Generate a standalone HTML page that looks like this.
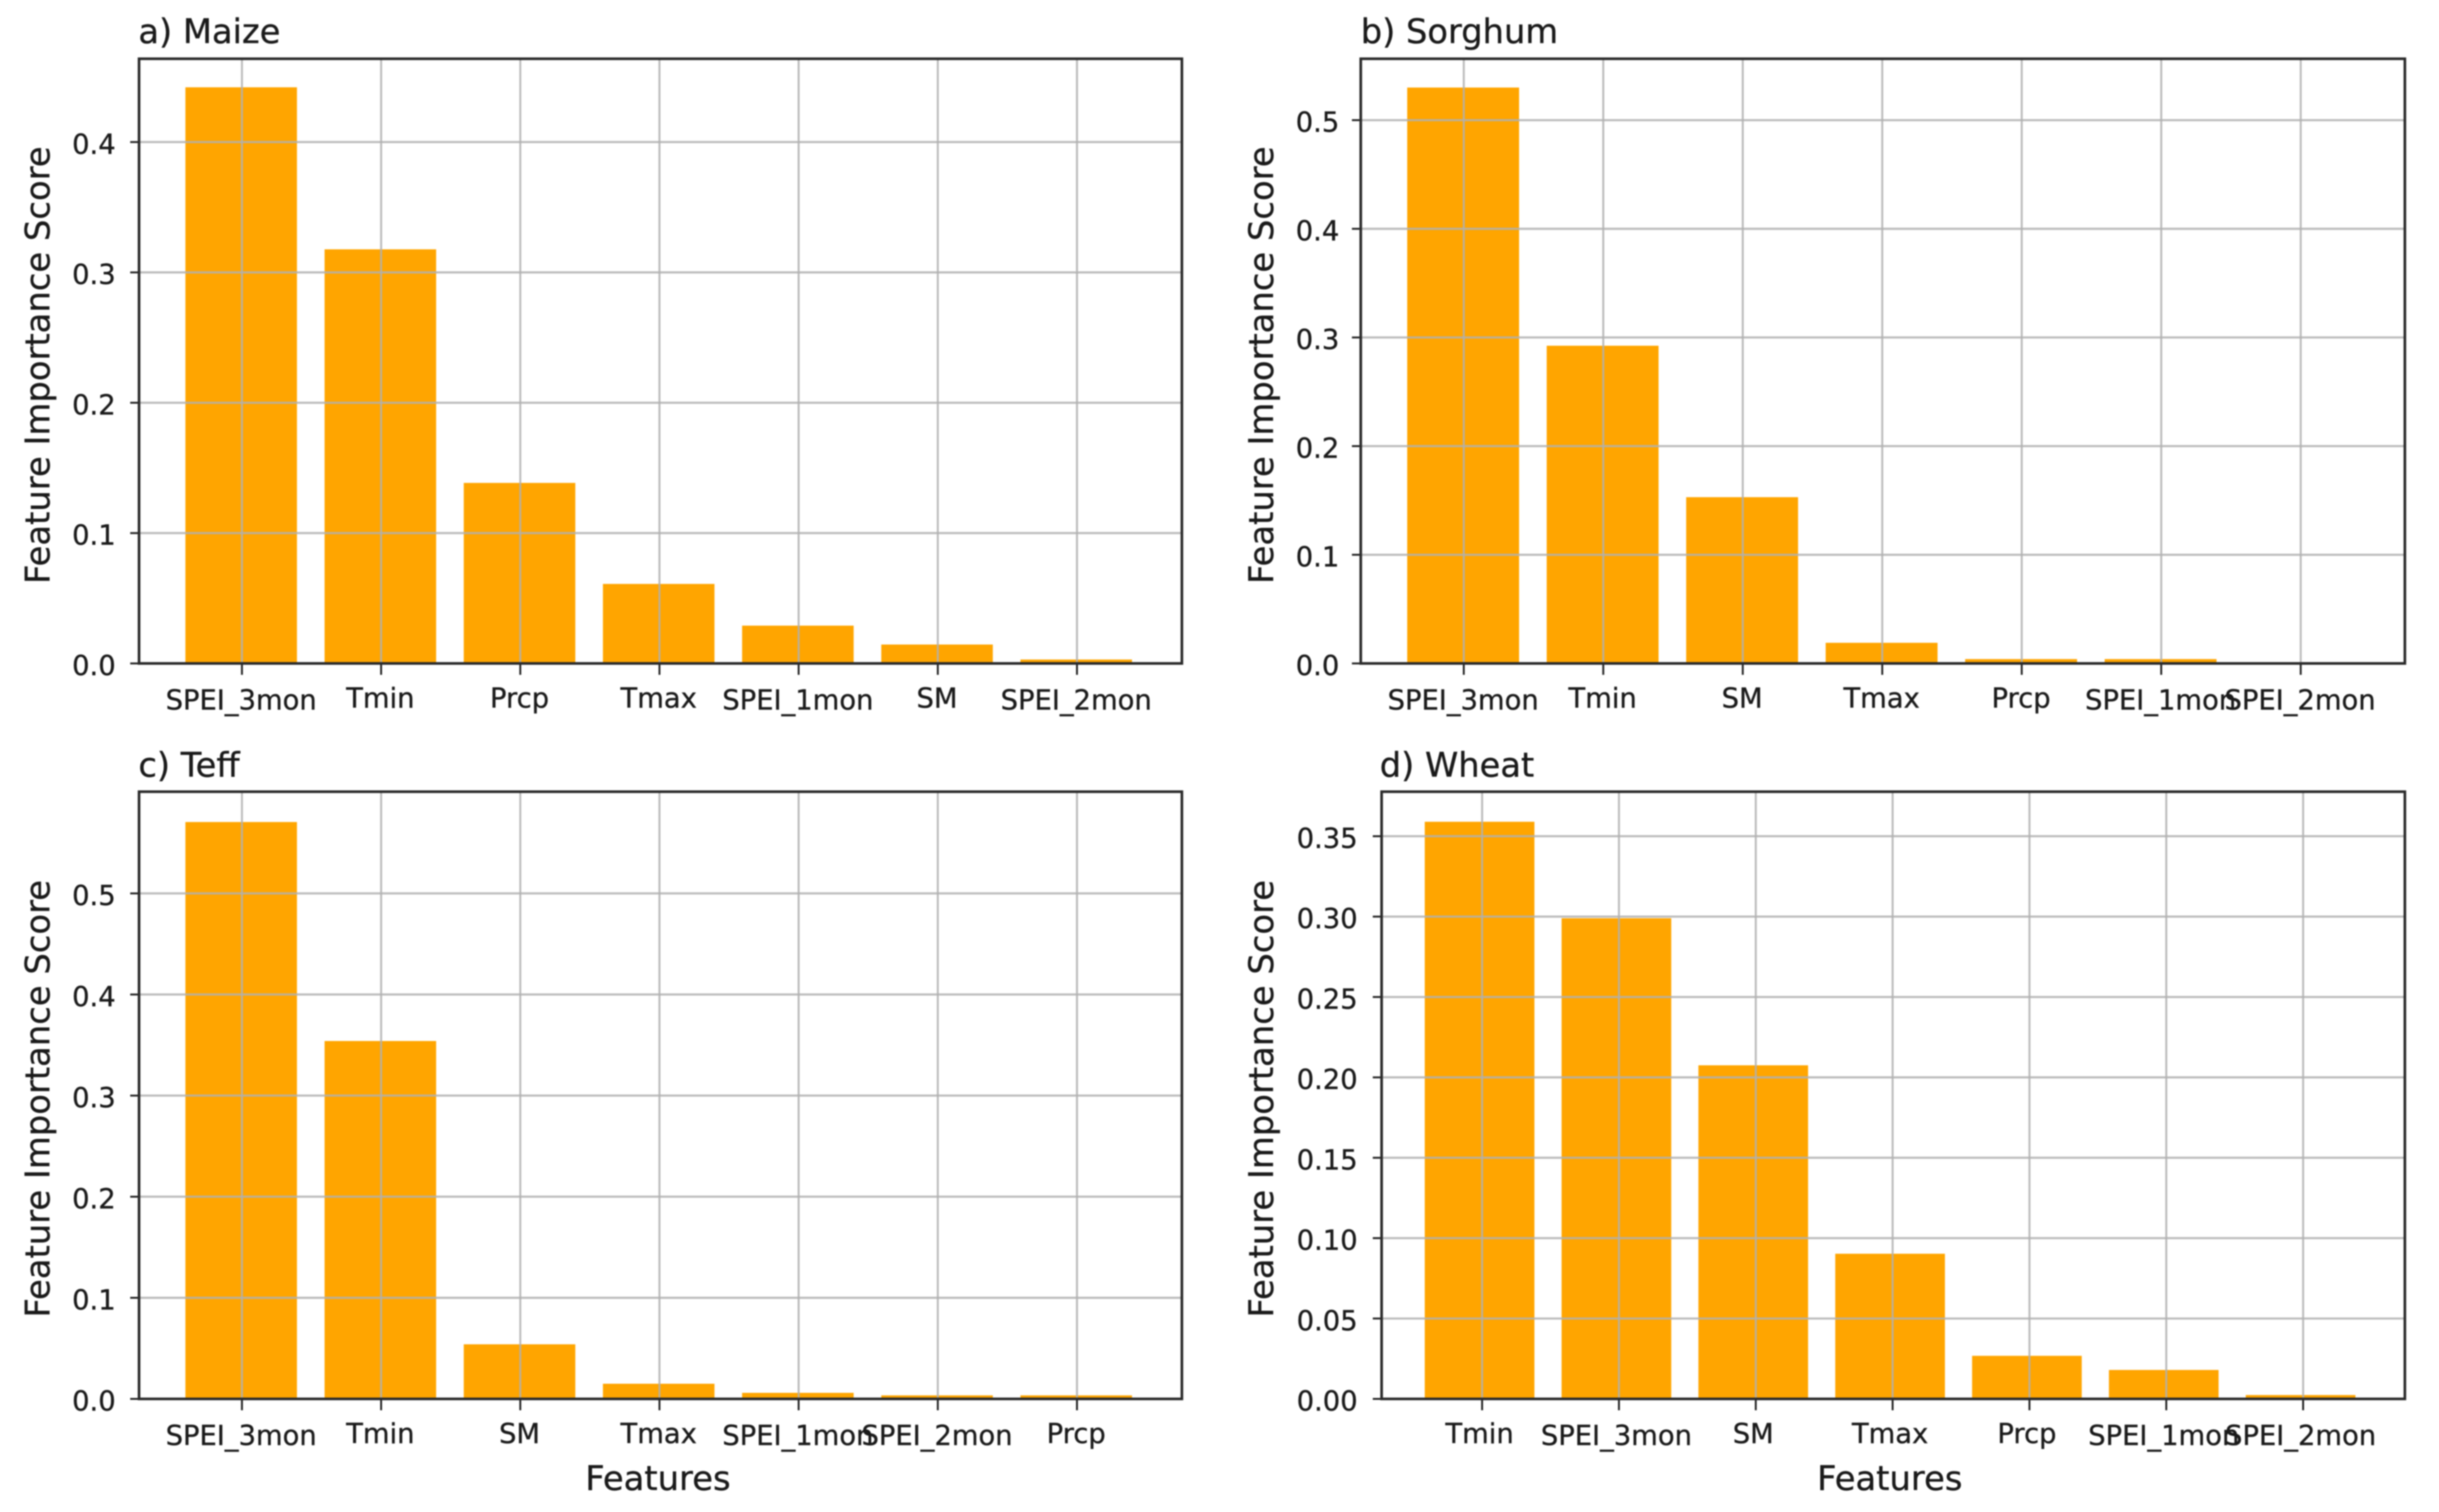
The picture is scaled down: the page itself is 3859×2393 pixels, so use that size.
<!DOCTYPE html>
<html lang="en">
<head>
<meta charset="utf-8">
<title>Feature Importance Scores by Crop</title>
<style>
  html, body { margin: 0; padding: 0; background: #ffffff; }
  #chart { display: block; width: 3859px; height: 2393px; filter: blur(1.1px); }
  text { font-family: "DejaVu Sans", "Liberation Sans", sans-serif; fill: #1a1a1a; stroke: #1a1a1a; stroke-width: 0.5px; }
  .tick-label { font-size: 43.3px; }
  .axis-label { font-size: 53.5px; }
  .panel-title { font-size: 53.3px; }
</style>
</head>
<body>
<svg id="chart" xmlns="http://www.w3.org/2000/svg" width="3859" height="2393" viewBox="0 0 3859 2393">
  <rect x="0" y="0" width="3859" height="2393" fill="#ffffff"/>
  <g id="plots"></g>
  <text class="panel-title" x="219" y="68">a) Maize</text>
  <text class="panel-title" x="2153" y="68">b) Sorghum</text>
  <text class="panel-title" x="219" y="1229">c) Teff</text>
  <text class="panel-title" x="2183" y="1229">d) Wheat</text>
  <text class="axis-label" text-anchor="middle" transform="translate(78 578) rotate(-90)">Feature Importance Score</text>
  <text class="axis-label" text-anchor="middle" transform="translate(2014 578) rotate(-90)">Feature Importance Score</text>
  <text class="axis-label" text-anchor="middle" transform="translate(78 1739) rotate(-90)">Feature Importance Score</text>
  <text class="axis-label" text-anchor="middle" transform="translate(2014 1739) rotate(-90)">Feature Importance Score</text>
  <text class="axis-label" text-anchor="middle" x="1041" y="2358">Features</text>
  <text class="axis-label" text-anchor="middle" x="2990" y="2358">Features</text>
</svg>
<script>
const maizeFeatures = ['SPEI_3mon', 'Tmin', 'Prcp', 'Tmax', 'SPEI_1mon', 'SM', 'SPEI_2mon'];
const maizeScores = [0.442, 0.3177, 0.1385, 0.061, 0.029, 0.0145, 0.003];
const maizeTicks = [0, 0.1, 0.2, 0.3, 0.4];
const maizeTickLabels = ['0.0', '0.1', '0.2', '0.3', '0.4'];
const maizeYMax = 0.4639;

const sorghumFeatures = ['SPEI_3mon', 'Tmin', 'SM', 'Tmax', 'Prcp', 'SPEI_1mon', 'SPEI_2mon'];
const sorghumScores = [0.53, 0.2924, 0.153, 0.019, 0.004, 0.004, 0.0005];
const sorghumTicks = [0, 0.1, 0.2, 0.3, 0.4, 0.5];
const sorghumTickLabels = ['0.0', '0.1', '0.2', '0.3', '0.4', '0.5'];
const sorghumYMax = 0.5565;

const teffFeatures = ['SPEI_3mon', 'Tmin', 'SM', 'Tmax', 'SPEI_1mon', 'SPEI_2mon', 'Prcp'];
const teffScores = [0.5706, 0.354, 0.054, 0.015, 0.006, 0.0035, 0.0035];
const teffTicks = [0, 0.1, 0.2, 0.3, 0.4, 0.5];
const teffTickLabels = ['0.0', '0.1', '0.2', '0.3', '0.4', '0.5'];
const teffYMax = 0.6006;

const wheatFeatures = ['Tmin', 'SPEI_3mon', 'SM', 'Tmax', 'Prcp', 'SPEI_1mon', 'SPEI_2mon'];
const wheatScores = [0.359, 0.299, 0.2075, 0.0903, 0.0268, 0.018, 0.0024];
const wheatTicks = [0, 0.05, 0.1, 0.15, 0.2, 0.25, 0.3, 0.35];
const wheatTickLabels = ['0.00', '0.05', '0.10', '0.15', '0.20', '0.25', '0.30', '0.35'];
const wheatYMax = 0.3777;

const SVG_NS = 'http://www.w3.org/2000/svg';
const plots = document.getElementById('plots');

function make(tag, parent, attrs) {
  const el = document.createElementNS(SVG_NS, tag);
  for (const key in attrs) el.setAttribute(key, attrs[key]);
  parent.appendChild(el);
  return el;
}

function drawPanel(name, box, features, scores, ticks, tickLabels, yMax) {
  const x0 = box.left, x1 = box.right, y0 = box.bottom, y1 = box.top;
  const xScale = function (i) { return box.firstTick + i * box.tickStep; };
  const yScale = function (v) { return y0 - v / yMax * (y0 - y1); };

  const group = make('g', plots, {});
  
  

  const background = make('rect', group, { x: x0, y: y1, width: x1 - x0, height: y0 - y1, fill: '#ffffff' });
  
  

  scores.forEach(function (value, i) {
    const bar = make('rect', group, {
      x: xScale(i) + box.barOffset - box.barWidth / 2,
      y: yScale(value),
      width: box.barWidth,
      height: y0 - yScale(value),
      fill: '#ffa500'
    });
    
    
  });

  features.forEach(function (feature, i) {
    const gridLine = make('line', group, {
      x1: xScale(i), x2: xScale(i), y1: y1, y2: y0,
      stroke: '#b0b0b0', 'stroke-width': 3.2, 'stroke-opacity': 0.85
    });
    
    

    const tick = make('line', group, {
      x1: xScale(i), x2: xScale(i), y1: y0, y2: y0 + 18,
      stroke: '#222222', 'stroke-width': 3
    });
    
    

    const hasUnderscore = feature.indexOf('_') >= 0;
    const label = make('text', group, {
      class: 'tick-label',
      x: xScale(i) + box.barOffset,
      y: y0 + (hasUnderscore ? 73 : 70),
      'text-anchor': 'middle'
    });
    label.textContent = feature;
    
    
  });

  ticks.forEach(function (value, i) {
    if (value !== 0) {
      const gridLine = make('line', group, {
        x1: x0, x2: x1, y1: yScale(value), y2: yScale(value),
        stroke: '#b0b0b0', 'stroke-width': 3.4, 'stroke-opacity': 0.85
      });
      
      
    }

    const tick = make('line', group, {
      x1: x0 - 14, x2: x0, y1: yScale(value), y2: yScale(value),
      stroke: '#222222', 'stroke-width': 3
    });
    
    

    const label = make('text', group, {
      class: 'tick-label',
      x: x0 - box.labelGap,
      y: yScale(value) + 18.5,
      'text-anchor': 'end'
    });
    label.textContent = tickLabels[i];
    
    
  });

  const frame = make('rect', group, {
    x: x0, y: y1, width: x1 - x0, height: y0 - y1,
    fill: 'none', stroke: '#2a2a2a', 'stroke-width': 4.2
  });
  
  
}

drawPanel('maize', { left: 220, right: 1870, top: 93, bottom: 1050, labelGap: 37, firstTick: 382.8, tickStep: 220.2, barOffset: -1.2, barWidth: 176.5 }, maizeFeatures, maizeScores, maizeTicks, maizeTickLabels, maizeYMax);
drawPanel('sorghum', { left: 2153, right: 3805, top: 93, bottom: 1050, labelGap: 34, firstTick: 2316, tickStep: 220.7, barOffset: -1, barWidth: 177 }, sorghumFeatures, sorghumScores, sorghumTicks, sorghumTickLabels, sorghumYMax);
drawPanel('teff', { left: 220, right: 1870, top: 1253, bottom: 2214, labelGap: 37, firstTick: 382.8, tickStep: 220.2, barOffset: -1.2, barWidth: 176.5 }, teffFeatures, teffScores, teffTicks, teffTickLabels, teffYMax);
drawPanel('wheat', { left: 2186, right: 3805, top: 1253, bottom: 2214, labelGap: 38, firstTick: 2345, tickStep: 216.5, barOffset: -4, barWidth: 173.5 }, wheatFeatures, wheatScores, wheatTicks, wheatTickLabels, wheatYMax);
</script>
</body>
</html>
